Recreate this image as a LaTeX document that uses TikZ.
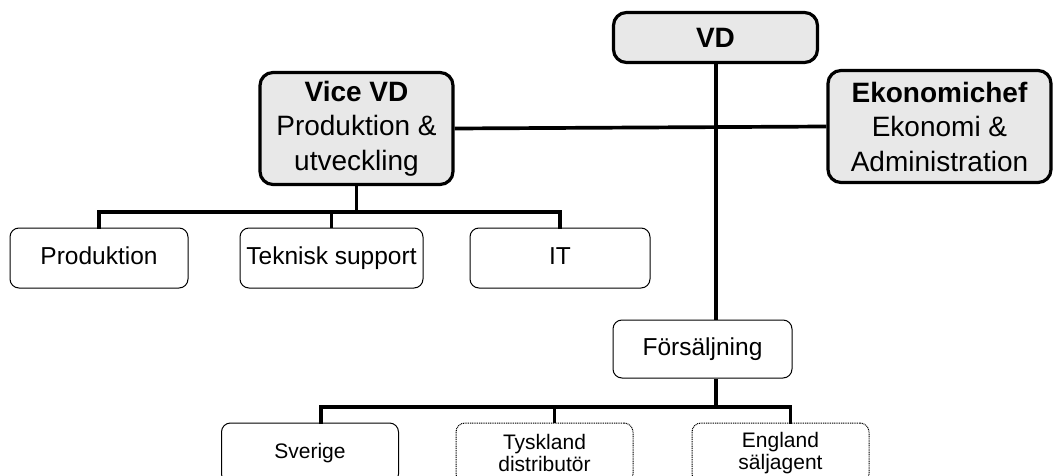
\documentclass[tikz,border=0pt]{standalone}
\usepackage{fontspec}
\setmainfont{Liberation Sans}
\definecolor{headfill}{RGB}{232,232,232}
\begin{document}
\begin{tikzpicture}[x=1pt,y=-1pt,
  headbox/.style={draw=black,fill=headfill,line width=3.2pt,rounded corners=13pt,
    inner sep=0pt,align=center,font=\fontsize{28}{34.5}\selectfont},
  unitbox/.style={draw=black,line width=1pt,rounded corners=9pt,inner sep=0pt,
    text height=17.5pt,text depth=5pt,
    minimum height=60pt,font=\fontsize{24.5}{29}\selectfont},
  subbox/.style={draw=black,line width=1pt,rounded corners=9pt,inner sep=0pt,
    align=center,minimum width=177pt,minimum height=60pt,
    font=\fontsize{21}{22}\selectfont},
  partnerbox/.style={subbox,dash pattern=on 1pt off 0.8pt},
  conn/.style={line width=3.7pt,line cap=rect}]
\useasboundingbox (0,0) rectangle (1053,476);
\begin{scope}
\clip (0,0) rectangle (1053,476);

% top management
\node[headbox,minimum width=204pt,minimum height=50pt] (vd) at (715.5,37.5) {\textbf{VD}};
\node[headbox,minimum width=193pt,minimum height=112pt] (vice) at (356.5,128.5)
  {\textbf{Vice VD}\\Produktion \&\\utveckling};
\node[headbox,minimum width=223pt,minimum height=112pt] (eko) at (939.5,126.5)
  {\textbf{Ekonomichef}\\Ekonomi \&\\Administration};

% production units
\node[unitbox,minimum width=178pt] (prod) at (99,258) {Produktion};
\node[unitbox,minimum width=183pt] (tek) at (331.5,258) {Teknisk support};
\node[unitbox,minimum width=180pt] (it) at (560,258) {IT};

% sales
\node[unitbox,minimum width=179pt,minimum height=58pt] (fors) at (702.5,349) {Försäljning};
\node[subbox] (sve) at (310,453) {Sverige};
\node[partnerbox] (tys) at (544.5,453) {Tyskland\\distributör};
\node[partnerbox] (eng) at (780.5,453) {England\\säljagent};

% connectors
\coordinate (pj) at (356.5,212);
\coordinate (sj) at (716,407);
\draw[conn,line cap=butt] (vice.east) -- (eko.west);
\draw[conn,line cap=butt] ([xshift=0.5pt]vd.south) -- ([xshift=0.5pt]vd.south |- fors.north);
\draw[conn,line cap=butt] (vice.south) -- (pj);
\draw[conn] (prod.north) |- (pj) -| (it.north);
\draw[conn,line cap=butt] (tek.north) -- (tek.north |- pj);
\draw[conn,line cap=butt] (fors.south -| sj) -- (sj);
\draw[conn] ([xshift=11pt]sve.north) |- (sj) -| ([xshift=10pt]eng.north);
\draw[conn,line cap=butt] ([xshift=10pt]tys.north) -- ([xshift=10pt]tys.north |- sj);
\end{scope}
\end{tikzpicture}
\end{document}
